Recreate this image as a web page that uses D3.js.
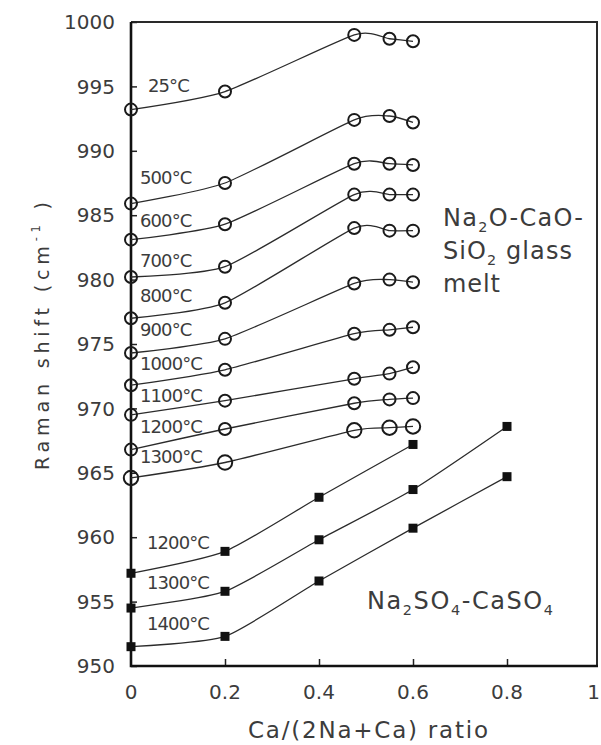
<!DOCTYPE html>
<html>
<head>
<meta charset="utf-8">
<script src="https://cdn.jsdelivr.net/npm/d3@7"></script>
<style>
  html, body { margin: 0; padding: 0; background: #fff; }
  svg { display: block; }
  text { font-family: 'DejaVu Sans', sans-serif; fill: #3c3c3c; }
</style>
</head>
<body>
<div id="chart"></div>
<script>
// Ca/(2Na+Ca) ratio positions
const glassX = [0, 0.2, 0.475, 0.55, 0.6];
const sulfX = [0, 0.2, 0.4, 0.6, 0.8];

// Na2O-CaO-SiO2 glass melt, Raman shift (cm-1) per temperature
const glassTemps = ['25°C', '500°C', '600°C', '700°C', '800°C', '900°C', '1000°C', '1100°C', '1200°C', '1300°C'];
const glass25 = [993.2, 994.6, 999.0, 998.7, 998.5];
const glass500 = [985.9, 987.5, 992.4, 992.7, 992.2];
const glass600 = [983.1, 984.3, 989.0, 989.0, 988.9];
const glass700 = [980.2, 981.0, 986.6, 986.6, 986.6];
const glass800 = [977.0, 978.2, 984.0, 983.8, 983.8];
const glass900 = [974.3, 975.4, 979.7, 980.0, 979.8];
const glass1000 = [971.8, 973.0, 975.8, 976.1, 976.3];
const glass1100 = [969.5, 970.6, 972.3, 972.7, 973.2];
const glass1200 = [966.8, 968.4, 970.4, 970.7, 970.8];
const glass1300 = [964.6, 965.8, 968.3, 968.5, 968.6];
const glassLabelY = [995.1, 987.9, 984.6, 981.5, 978.8, 976.1, 973.5, 971.0, 968.6, 966.3];

// Na2SO4-CaSO4
const sulfTemps = ['1200°C', '1300°C', '1400°C'];
const sulf1200 = [957.2, 958.9, 963.1, 967.2];
const sulf1300 = [954.5, 955.8, 959.8, 963.7, 968.6];
const sulf1400 = [951.5, 952.3, 956.6, 960.7, 964.7];
const sulfLabelY = [959.6, 956.5, 953.3];

const xTicks = [0, 0.2, 0.4, 0.6, 0.8, 1];
const yTicks = [950, 955, 960, 965, 970, 975, 980, 985, 990, 995, 1000];

const glassSeries = [glass25, glass500, glass600, glass700, glass800, glass900,
  glass1000, glass1100, glass1200, glass1300];
const sulfSeries = [sulf1200, sulf1300, sulf1400];

const W = 601, H = 745;
const plot = { left: 131, top: 22, right: 597, bottom: 666 };

const svg = d3.select('#chart').append('svg')
  .attr('width', W).attr('height', H);

const x = d3.scaleLinear().domain([0, 1]).range([plot.left, 601]);
const y = d3.scaleLinear().domain([950, 1000]).range([plot.bottom, plot.top]);

const line = d3.line()
  .x((d) => x(d[0]))
  .y((d) => y(d[1]))
  .curve(d3.curveCardinal.tension(0.4));

// Frame: top and right thinner
svg.append('path')
  .attr('d', `M${plot.left},${plot.top} H${plot.right} V${plot.bottom}`)
  .attr('fill', 'none').attr('stroke', '#2a2a2a').attr('stroke-width', 2);

// Y axis (ticks inward)
const yAxis = svg.append('g')
  .attr('transform', `translate(${plot.left},0)`)
  .call(d3.axisRight(y).tickValues(yTicks).tickSize(6).tickFormat(''));
yAxis.select('.domain').remove();
yAxis.selectAll('line').attr('stroke', '#222').attr('stroke-width', 1.5);

svg.selectAll('.ylab')
  .data(yTicks)
  .enter()
  .append('text')
  .attr('class', 'ylab')
  .attr('x', 115)
  .attr('y', (d) => y(d))
  .attr('dy', '0.36em')
  .attr('text-anchor', 'end')
  .attr('font-size', 20)
  .text((d) => d);

// X axis (ticks inward)
const xAxis = svg.append('g')
  .attr('transform', `translate(0,${plot.bottom})`)
  .call(d3.axisTop(x).tickValues(xTicks.slice(1, 5)).tickSize(7).tickFormat(''));
xAxis.select('.domain').remove();
xAxis.selectAll('line').attr('stroke', '#222').attr('stroke-width', 1.5);

// last label sits at the window edge, so keep it inside
svg.selectAll('.xlab')
  .data(xTicks)
  .enter()
  .append('text')
  .attr('class', 'xlab')
  .attr('x', (d) => (d === 1 ? W - 1 : x(d)))
  .attr('y', 699)
  .attr('text-anchor', (d) => (d === 1 ? 'end' : 'middle'))
  .attr('font-size', 20)
  .text((d) => d);

// Left and bottom axis lines, heavier
svg.append('path')
  .attr('d', `M${plot.left},${plot.top} V${plot.bottom} H${plot.right + 1}`)
  .attr('fill', 'none').attr('stroke', '#111').attr('stroke-width', 2.6);

// Glass melt series
glassSeries.forEach((vals, i) => {
  const pts = vals.map((v, j) => [glassX[j], v]);
  svg.append('path')
    .datum(pts)
    .attr('d', line)
    .attr('fill', 'none')
    .attr('stroke', '#2b2b2b')
    .attr('stroke-width', 1.3);

  svg.selectAll(`.gpt-${i}`)
    .data(pts)
    .enter()
    .append('circle')
    .attr('class', `gpt-${i}`)
    .attr('cx', (d) => x(d[0]))
    .attr('cy', (d) => y(d[1]))
    .attr('r', i === 9 ? 7.2 : 6)
    .attr('fill', 'none')
    .attr('stroke', '#1a1a1a')
    .attr('stroke-width', 2);

  svg.append('text')
    .attr('x', x(0) + (i === 0 ? 17 : 9))
    .attr('y', y(glassLabelY[i]))
    .attr('dy', '0.36em')
    .attr('font-size', 18)
    .attr('fill', '#4a4a4a')
    .attr('letter-spacing', -0.9)
    .text(glassTemps[i]);
});

// Sulfate series
sulfSeries.forEach((vals, i) => {
  const pts = vals.map((v, j) => [sulfX[j], v]);
  svg.append('path')
    .datum(pts)
    .attr('d', line)
    .attr('fill', 'none')
    .attr('stroke', '#2b2b2b')
    .attr('stroke-width', 1.3);

  svg.selectAll(`.spt-${i}`)
    .data(pts)
    .enter()
    .append('rect')
    .attr('class', `spt-${i}`)
    .attr('x', (d) => x(d[0]) - 4.5)
    .attr('y', (d) => y(d[1]) - 4.5)
    .attr('width', 9)
    .attr('height', 9)
    .attr('fill', '#111');

  svg.append('text')
    .attr('x', x(0) + 16)
    .attr('y', y(sulfLabelY[i]))
    .attr('dy', '0.36em')
    .attr('font-size', 18)
    .attr('fill', '#4a4a4a')
    .attr('letter-spacing', -0.9)
    .text(sulfTemps[i]);
});

// Subscript-aware text helper
const richText = (parent, xPos, yPos, parts, size, len) => {
  const t = parent.append('text')
    .attr('x', xPos).attr('y', yPos)
    .attr('font-size', size)
    .attr('fill', '#444');
  let shift = 0;
  parts.forEach(([str, kind]) => {
    const target = kind === 'sub' ? 6 : kind === 'sup' ? -9 : 0;
    t.append('tspan')
      .attr('dy', target - shift)
      .attr('font-size', kind ? size * 0.6 : size)
      .text(str);
    shift = target;
  });
  if (len) t.attr('textLength', len).attr('lengthAdjust', 'spacing');
  return t;
};

richText(svg, 443, 226, [['Na'], ['2', 'sub'], ['O-CaO-']], 24, 140);
richText(svg, 443, 259, [['SiO'], ['2', 'sub'], [' glass']], 24, 129);
richText(svg, 443, 292, [['melt']], 24, 57);
richText(svg, 367, 609, [['Na'], ['2', 'sub'], ['SO'], ['4', 'sub'], ['-CaSO'], ['4', 'sub']], 24, 186);

// Axis titles
richText(svg, 248, 738, [['Ca/(2Na+Ca) ratio']], 23, 240);

const yTitle = svg.append('g')
  .attr('transform', 'translate(49,470) rotate(-90)');
richText(yTitle, 0, 0, [['Raman shift  (cm'], ['-1', 'sup'], [' )']], 19, 268);
</script>
</body>
</html>
